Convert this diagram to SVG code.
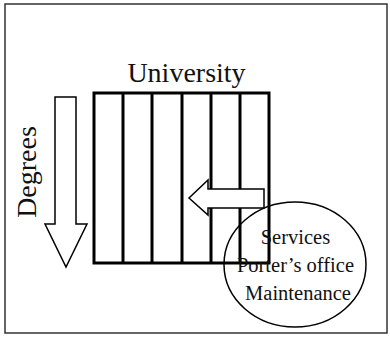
<svg xmlns="http://www.w3.org/2000/svg" width="390" height="337" viewBox="0 0 390 337">
  <style>
    .frame { fill: none; stroke: #333; stroke-width: 1.5; }
    .grid { fill: none; stroke: #000; stroke-width: 3; }
    .thin { fill: #fff; stroke: #000; stroke-width: 1.5; stroke-linejoin: miter; }
    .lbl { font-family: "Liberation Serif", "Times New Roman", serif; fill: #111; }
  </style>
  <rect width="390" height="337" fill="#fff"/>
  <rect class="frame" x="5" y="4" width="382" height="329"/>

  <g id="university">
    <text class="lbl" x="186.5" y="82" font-size="28" text-anchor="middle">University</text>
    <rect class="grid" x="94" y="93" width="175" height="170"/>
    <path class="grid" d="M123 93V263M152 93V263M182 93V263M211 93V263M240 93V263"/>
  </g>

  <g id="degrees">
    <path class="thin" d="M55 97H76V224H87L66 267L45 224H55Z"/>
    <text class="lbl" transform="translate(36 172) rotate(-90)" font-size="28" text-anchor="middle">Degrees</text>
  </g>

  <g id="services-arrow">
    <path class="thin" d="M264 189V208H208V215L189 198L208 180V189Z"/>
  </g>

  <g id="services">
    <ellipse cx="295" cy="264.5" rx="71" ry="62.5" fill="none" stroke="#000" stroke-width="1.5"/>
    <text class="lbl" font-size="20.5" text-anchor="middle">
      <tspan x="298" y="244">Services</tspan>
      <tspan x="298" y="272">Porter’s office</tspan>
      <tspan x="298" y="300">Maintenance</tspan>
    </text>
  </g>
</svg>
